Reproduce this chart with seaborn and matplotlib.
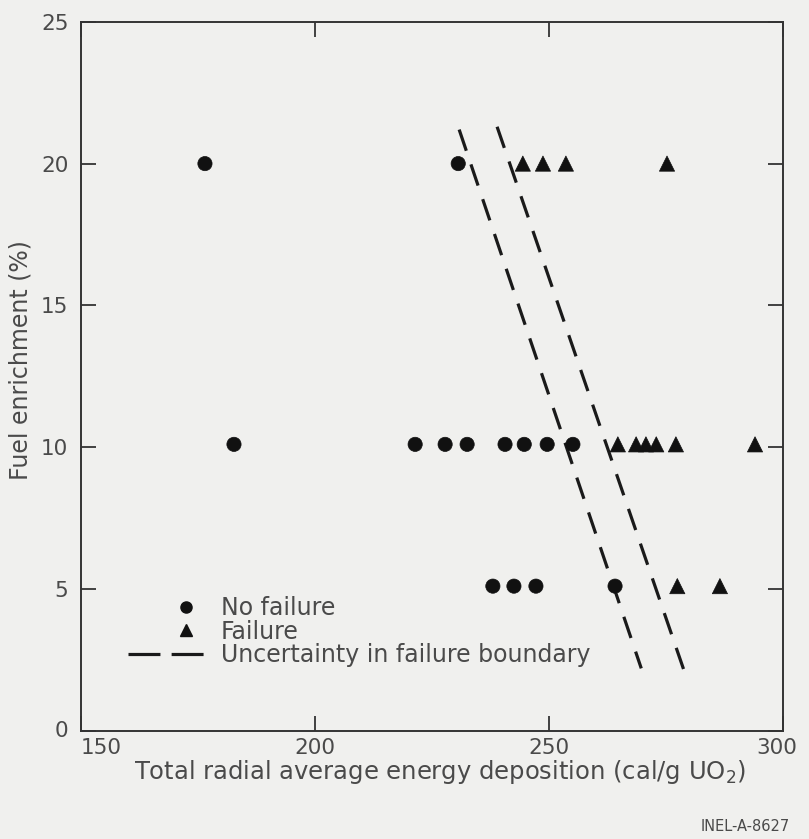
import matplotlib
matplotlib.use("Agg")
import matplotlib.pyplot as plt
from matplotlib.lines import Line2D
from matplotlib.legend_handler import HandlerLine2D
from matplotlib.transforms import ScaledTranslation
import numpy as np
import pandas as pd
import seaborn as sns

# Test results: energy deposition (cal/g UO2) vs. fuel enrichment (%)
no_failure_energy = [176.5, 230.6,
                     182.7, 221.4, 227.8, 232.5, 240.6, 244.7, 249.6, 255.1,
                     238.0, 242.5, 247.2, 264.1]
no_failure_enrich = [20.0, 20.0,
                     10.1, 10.1, 10.1, 10.1, 10.1, 10.1, 10.1, 10.1,
                     5.1, 5.1, 5.1, 5.1]
failure_energy = [244.4, 248.7, 253.6, 275.2,
                  264.7, 268.6, 270.7, 272.9, 277.1, 294.0,
                  277.4, 286.5]
failure_enrich = [20.0, 20.0, 20.0, 20.0,
                  10.1, 10.1, 10.1, 10.1, 10.1, 10.1,
                  5.1, 5.1]

# Uncertainty band on the failure boundary (two dashed lines)
boundary_low_x = [230.8, 269.7]
boundary_low_y = [21.2, 2.2]
boundary_high_x = [238.9, 279.3]
boundary_high_y = [21.3, 1.9]

x_ticks = [150, 200, 250, 300]
y_ticks = [0, 5, 10, 15, 20, 25]

df = pd.DataFrame({
    "energy": no_failure_energy + failure_energy,
    "enrichment": no_failure_enrich + failure_enrich,
    "outcome": ["No failure"] * len(no_failure_energy) + ["Failure"] * len(failure_energy),
})

sns.set_style("ticks")
plt.rcParams["font.family"] = ["DejaVu Sans"]

bg = "#f0f0ee"
ink = "#4a4a4a"
fs_tick = 15.5
fs_text = 17
fig = plt.figure(figsize=(8.09, 8.39), dpi=100, facecolor=bg)
ax = fig.add_axes([0.100, 0.129, 0.868, 0.845], facecolor=bg)

sns.scatterplot(data=df, x="energy", y="enrichment", style="outcome",
                markers={"No failure": "o", "Failure": "^"},
                style_order=["No failure", "Failure"],
                color="#111111", edgecolor="#111111", linewidth=0.5,
                size="outcome", sizes={"No failure": 105, "Failure": 120},
                legend=False, ax=ax, zorder=3)

dash_kw = dict(color="#1a1a1a", lw=2.3, dashes=(7, 4.5), solid_capstyle="butt")
ax.plot(boundary_low_x, boundary_low_y, **dash_kw)
ax.plot(boundary_high_x, boundary_high_y, **dash_kw)

ax.set_xlim(150, 300)
ax.set_ylim(0, 25)
ax.set_xticks(x_ticks)
ax.set_yticks(y_ticks)
ax.tick_params(direction="in", length=11, width=1.3, color="#333333",
               top=True, right=True, labelsize=fs_tick, labelcolor=ink)
ax.tick_params(axis="x", pad=5)
ax.tick_params(axis="y", pad=9)
for s in ax.spines.values():
    s.set_color("#333333")
    s.set_linewidth(1.4)

# Nudge the corner labels apart so "0" and "150" do not collide
xlabels = ax.get_xticklabels()
xlabels[0].set_transform(xlabels[0].get_transform()
                         + ScaledTranslation(0.20, 0, fig.dpi_scale_trans))
xlabels[-1].set_transform(xlabels[-1].get_transform()
                          + ScaledTranslation(-0.06, 0, fig.dpi_scale_trans))
ylabels = ax.get_yticklabels()
ylabels[0].set_transform(ylabels[0].get_transform()
                         + ScaledTranslation(0, 0.02, fig.dpi_scale_trans))

ax.set_xlabel("Total radial average energy deposition (cal/g UO$_2$)",
              fontsize=fs_text + 0.5, color=ink)
ax.set_ylabel("Fuel enrichment (%)", fontsize=fs_text, color=ink)
ax.xaxis.set_label_coords(0.512, -0.038)
ax.yaxis.set_label_coords(-0.069, 0.523)


class RightMarkerHandler(HandlerLine2D):
    """Place the single legend marker toward the right end of the handle."""
    def get_xdata(self, legend, xdescent, ydescent, width, height, fontsize):
        xdata = np.array([-xdescent + 0.52 * width, -xdescent + width])
        return xdata, np.array([-xdescent + 0.76 * width])


handles = [
    Line2D([], [], marker="o", ls="none", color="#111111", markersize=8),
    Line2D([], [], marker="^", ls="none", color="#111111", markersize=9),
    Line2D([], [], color="#1a1a1a", lw=2.3, dashes=(10, 3.5)),
]
labels = ["No failure", "Failure", "Uncertainty in failure boundary"]
leg = ax.legend(handles, labels, loc="lower left", bbox_to_anchor=(0.067, 0.090),
                frameon=False, fontsize=fs_text, handlelength=3.24, handletextpad=0.69,
                labelspacing=-0.03, borderpad=0, borderaxespad=0, numpoints=1,
                handler_map={handles[0]: RightMarkerHandler(),
                             handles[1]: RightMarkerHandler()})
for t in leg.get_texts():
    t.set_color(ink)

fig.text(0.976, 0.006, "INEL-A-8627", ha="right", va="bottom", fontsize=10.5, color=ink)

fig.savefig("out.png", dpi=100, facecolor=bg)
